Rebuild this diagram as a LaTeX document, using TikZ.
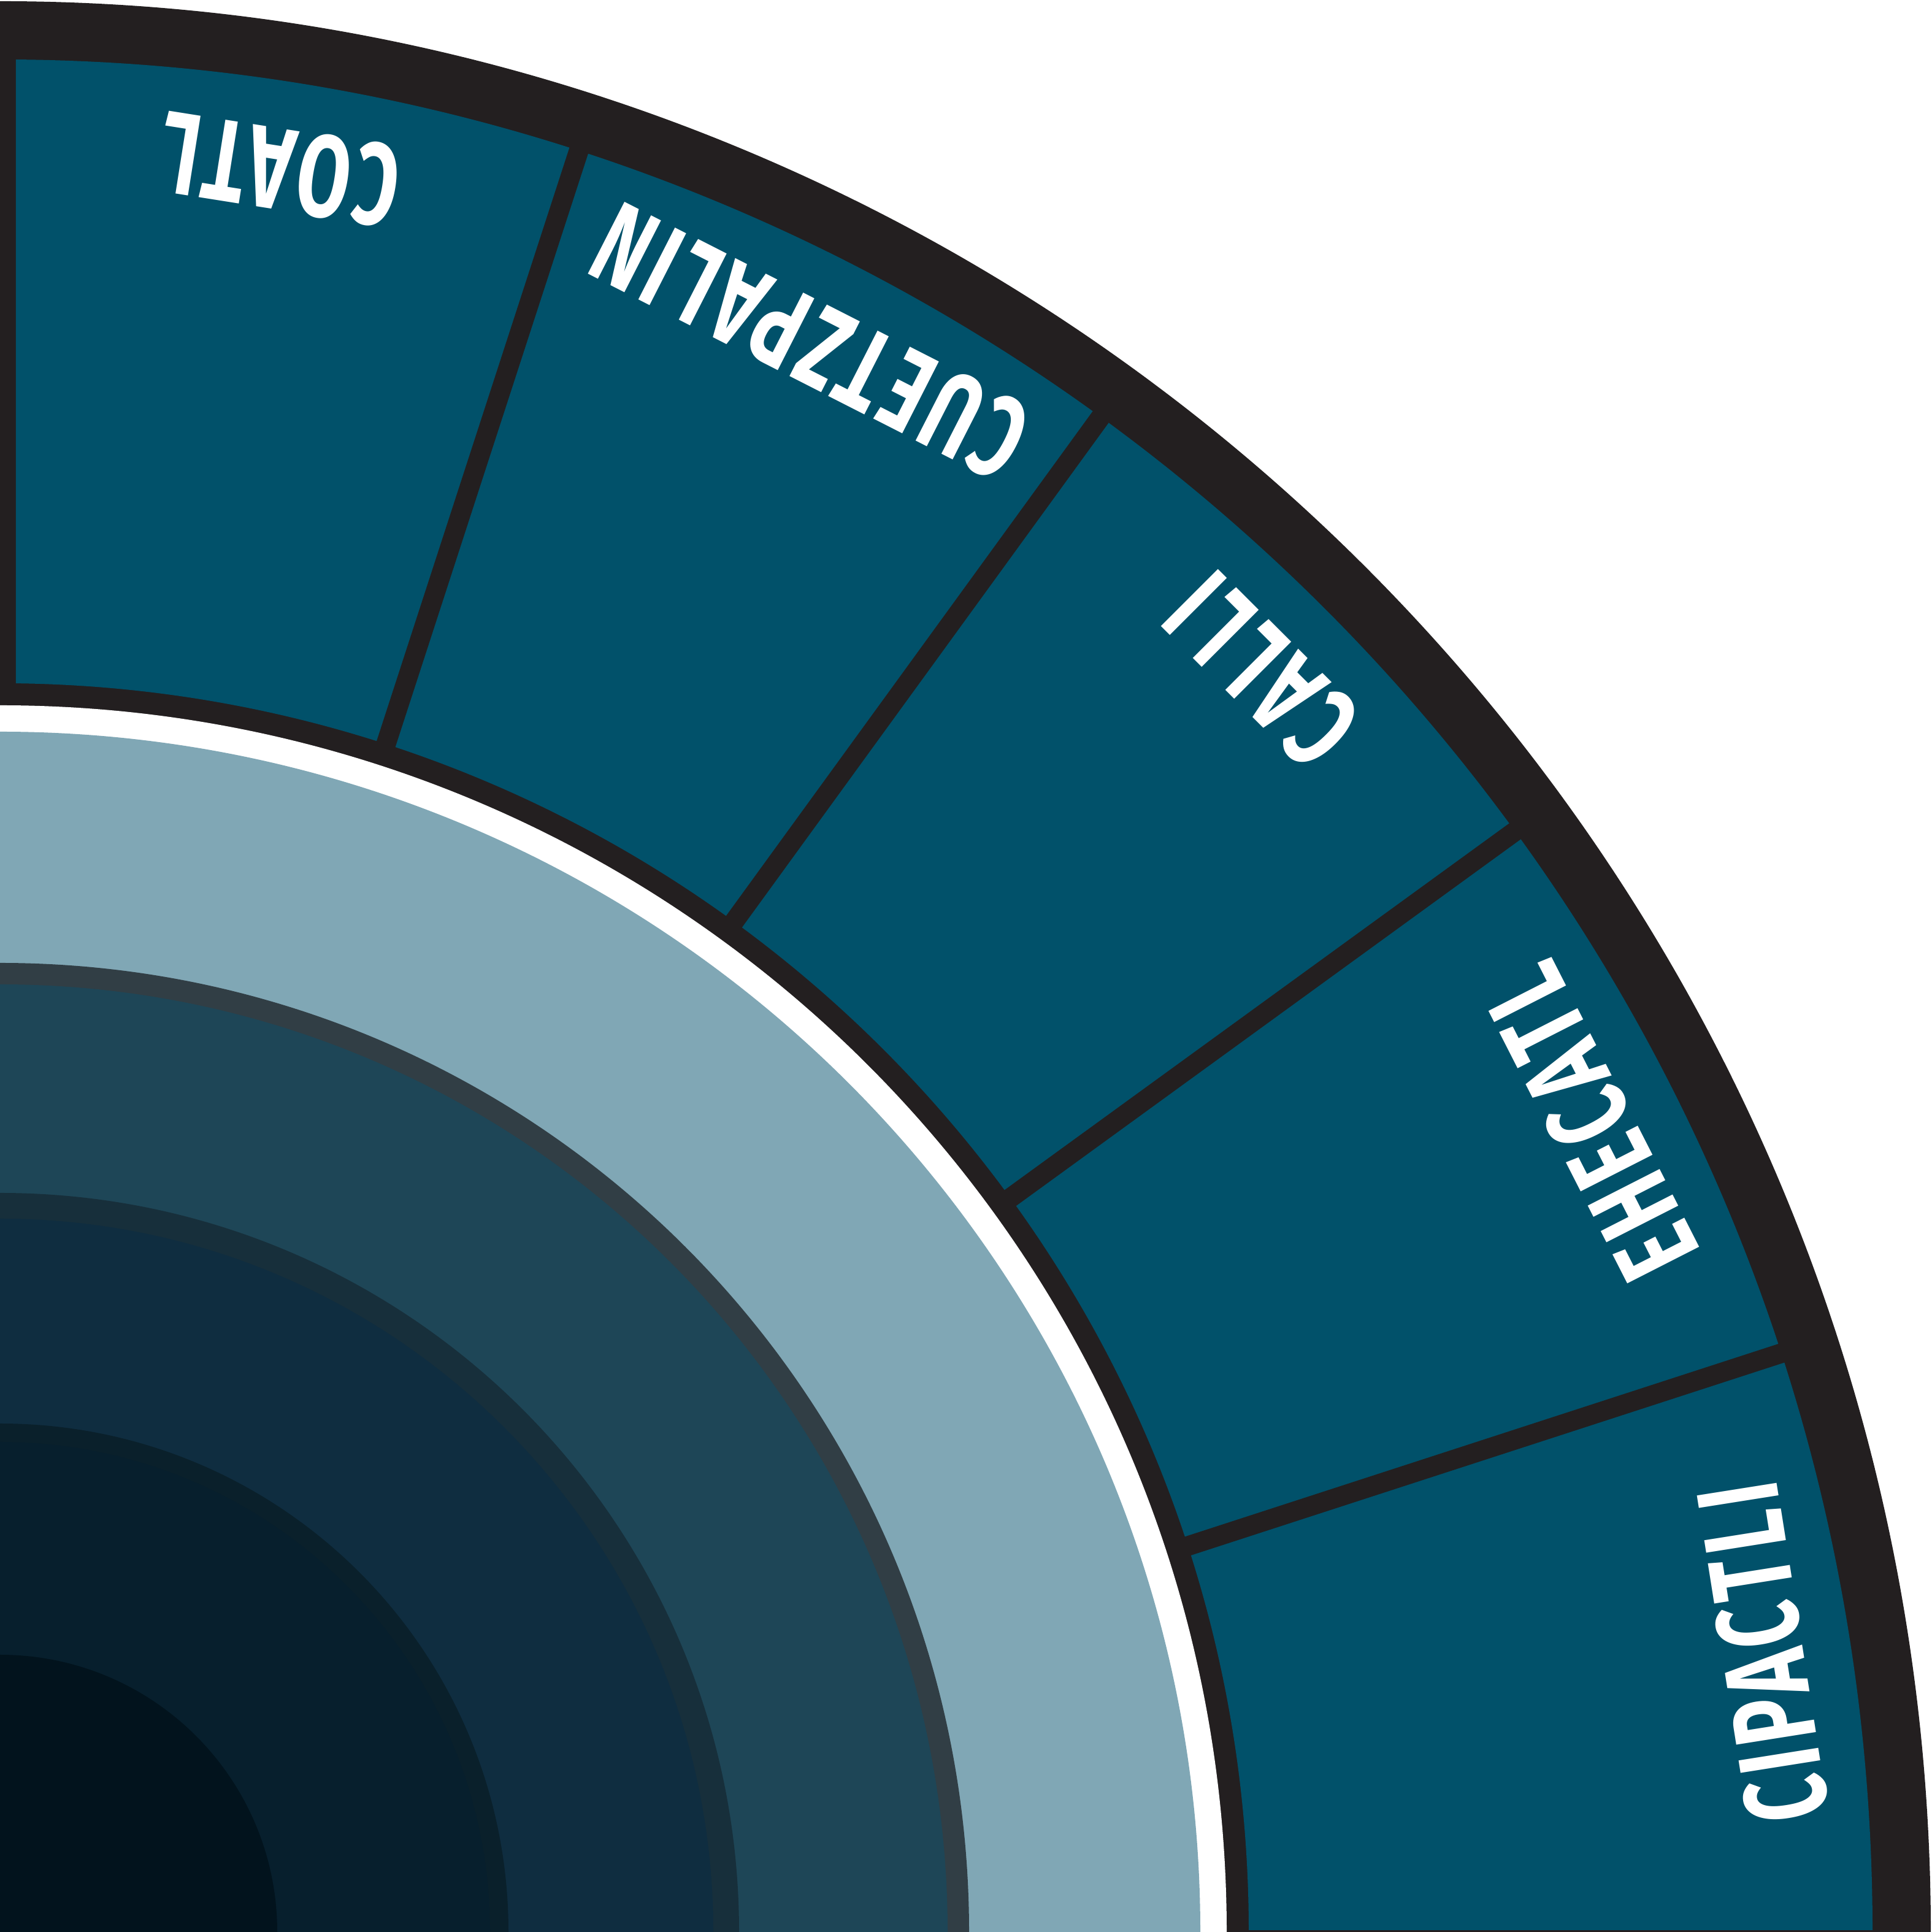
\documentclass[tikz,border=0pt]{standalone}
\usepackage{fontspec}
\newfontfamily\signfont[FakeStretch=0.66,LetterSpace=5]{Fira Sans}
\definecolor{rimdark}{HTML}{231F20}
\definecolor{sectorteal}{HTML}{01516A}
\definecolor{paleblue}{HTML}{80A7B5}
\definecolor{greyband}{HTML}{313E45}
\definecolor{ringone}{HTML}{1E4657}
\definecolor{ringtwoedge}{HTML}{172F3B}
\definecolor{ringtwo}{HTML}{0F2D40}
\definecolor{ringthreeedge}{HTML}{0A202B}
\definecolor{ringthree}{HTML}{071F2D}
\definecolor{corecol}{HTML}{02131D}
\tikzset{
  signlabel/.style={text=white,inner sep=0pt,font=\signfont\bfseries\fontsize{54}{54}\selectfont},
  divider/.style={rimdark,line width=0.32cm}
}

\begin{document}
\begin{tikzpicture}
  \useasboundingbox (0,0) rectangle (31.5,31.5);
  % outer rim and sectors
  \fill[rimdark] (0,0) -- (31.48,0) arc (0:90:31.48) -- cycle;
  \begin{scope}
    \clip (0.26,0.04) rectangle (31.5,31.5);
    \fill[sectorteal,even odd rule] (0,0) circle (30.53) (0,0) circle (20.36);
  \end{scope}
  \draw[divider] (18:20.1) -- (18:30.8);
  \draw[divider] (36:20.1) -- (36:30.8);
  \draw[divider] (54:20.1) -- (54:30.8);
  \draw[divider] (72:20.1) -- (72:30.8);
  % inner rings
  \fill[white] (0,0) -- (20,0) arc (0:90:20) -- cycle;
  \fill[paleblue] (0,0) -- (19.57,0) arc (0:90:19.57) -- cycle;
  \fill[greyband] (0,0) -- (15.8,0) arc (0:90:15.8) -- cycle;
  \fill[ringone] (0,0) -- (15.45,0) arc (0:90:15.45) -- cycle;
  \fill[ringtwoedge] (0,0) -- (12.05,0) arc (0:90:12.05) -- cycle;
  \fill[ringtwo] (0,0) -- (11.63,0) arc (0:90:11.63) -- cycle;
  \fill[ringthreeedge] (0,0) -- (8.29,0) arc (0:90:8.29) -- cycle;
  \fill[ringthree] (0,0) -- (7.99,0) arc (0:90:7.99) -- cycle;
  \fill[corecol] (0,0) -- (4.52,0) arc (0:90:4.52) -- cycle;
  % day signs
  \node[signlabel,rotate=99] (cipactli) at (9:29.1) {CIPACTLI};
  \node[signlabel,rotate=117] (ehecatl) at (27:29.1) {EHECATL};
  \node[signlabel,rotate=135] (calli) at (45:29.1) {CALLI};
  \node[signlabel,rotate=153] (cuetzpalin) at (63:29.1) {CUETZPALIN};
  \node[signlabel,rotate=171] (coatl) at (81:29.1) {COATL};
\end{tikzpicture}
\end{document}
